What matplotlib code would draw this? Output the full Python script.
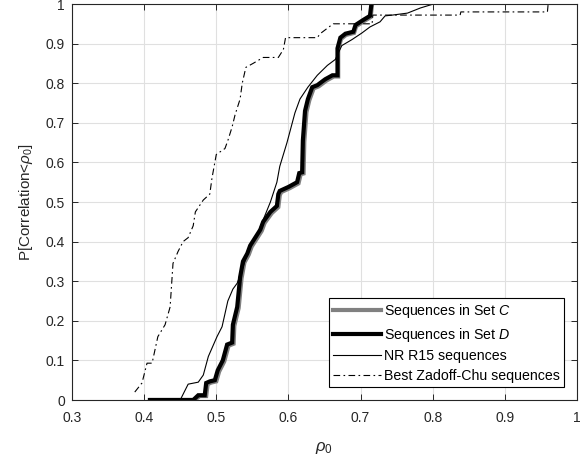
import matplotlib
matplotlib.use("Agg")
import matplotlib.pyplot as plt
from matplotlib.ticker import FormatStrFormatter

plt.rcParams['font.family'] = ['Liberation Sans', 'DejaVu Sans']
plt.rcParams['mathtext.fontset'] = 'custom'
plt.rcParams['mathtext.rm'] = 'Liberation Sans'
plt.rcParams['mathtext.it'] = 'Liberation Sans:italic'
plt.rcParams['mathtext.bf'] = 'Liberation Sans:bold'

# Set D (thick black)
d_x = [0.408, 0.468, 0.475, 0.484, 0.486, 0.491, 0.498, 0.502, 0.509, 0.515, 0.522,
       0.523, 0.529, 0.533, 0.537, 0.543, 0.547, 0.554, 0.561, 0.565, 0.575, 0.584,
       0.586, 0.588, 0.600, 0.612, 0.615, 0.619, 0.620, 0.623, 0.627, 0.633, 0.640,
       0.651, 0.661, 0.668, 0.668, 0.672, 0.679, 0.690, 0.693, 0.704, 0.713, 0.715]
d_y = [0.0, 0.0, 0.012, 0.012, 0.043, 0.047, 0.05, 0.075, 0.10, 0.14, 0.145,
       0.19, 0.235, 0.31, 0.35, 0.37, 0.39, 0.41, 0.43, 0.45, 0.475, 0.49,
       0.52, 0.528, 0.538, 0.55, 0.573, 0.575, 0.655, 0.73, 0.76, 0.79, 0.795,
       0.81, 0.82, 0.82, 0.888, 0.915, 0.925, 0.93, 0.947, 0.96, 0.97, 1.0]

# Set C (thick grey), nearly identical to D
c_x = [0.410, 0.470, 0.477, 0.486, 0.488, 0.493, 0.500, 0.504, 0.511, 0.517, 0.524,
       0.525, 0.531, 0.535, 0.539, 0.545, 0.549, 0.556, 0.563, 0.567, 0.577, 0.586,
       0.588, 0.590, 0.602, 0.614, 0.617, 0.621, 0.622, 0.625, 0.629, 0.635, 0.642,
       0.653, 0.663, 0.669, 0.669, 0.673, 0.680, 0.691, 0.694, 0.705, 0.714, 0.716]
c_y = [0.0, 0.0, 0.010, 0.010, 0.040, 0.044, 0.047, 0.072, 0.097, 0.137, 0.142,
       0.187, 0.232, 0.307, 0.347, 0.367, 0.387, 0.407, 0.427, 0.447, 0.472, 0.487,
       0.517, 0.525, 0.535, 0.547, 0.570, 0.572, 0.652, 0.727, 0.757, 0.787, 0.792,
       0.807, 0.817, 0.817, 0.885, 0.912, 0.922, 0.927, 0.944, 0.957, 0.967, 1.0]

# NR R15 sequences (thin solid)
nr_x = [0.408, 0.450, 0.461, 0.475, 0.482, 0.489, 0.501, 0.508, 0.516, 0.523, 0.529,
        0.536, 0.547, 0.557, 0.565, 0.575, 0.584, 0.588, 0.598, 0.609, 0.616, 0.627,
        0.640, 0.654, 0.665, 0.674, 0.688, 0.702, 0.713, 0.727, 0.734, 0.744, 0.765,
        0.783, 0.801]
nr_y = [0.0, 0.0, 0.04, 0.045, 0.063, 0.11, 0.16, 0.185, 0.25, 0.28, 0.295,
        0.33, 0.39, 0.42, 0.455, 0.50, 0.55, 0.59, 0.65, 0.725, 0.76, 0.79,
        0.82, 0.845, 0.86, 0.895, 0.91, 0.927, 0.942, 0.955, 0.97, 0.972, 0.977,
        0.99, 1.0]

# Best Zadoff-Chu sequences (dash-dot)
zc_x = [0.387, 0.397, 0.404, 0.411, 0.419, 0.429, 0.436, 0.440, 0.447, 0.454, 0.461,
        0.468, 0.471, 0.482, 0.491, 0.494, 0.500, 0.512, 0.516, 0.522, 0.526, 0.533,
        0.536, 0.541, 0.551, 0.565, 0.586, 0.593, 0.596, 0.640, 0.644, 0.662, 0.667,
        0.716, 0.717, 0.838, 0.839, 0.959, 0.960]
zc_y = [0.02, 0.043, 0.093, 0.093, 0.16, 0.19, 0.235, 0.345, 0.375, 0.40, 0.41,
        0.44, 0.475, 0.505, 0.52, 0.56, 0.62, 0.635, 0.655, 0.69, 0.72, 0.76,
        0.80, 0.84, 0.85, 0.865, 0.865, 0.885, 0.915, 0.915, 0.925, 0.95, 0.95,
        0.95, 0.972, 0.972, 0.98, 0.98, 1.0]

x_ticks = [0.3, 0.4, 0.5, 0.6, 0.7, 0.8, 0.9, 1.0]
y_ticks = [0, 0.1, 0.2, 0.3, 0.4, 0.5, 0.6, 0.7, 0.8, 0.9, 1.0]

fig = plt.figure(figsize=(5.88, 4.59), dpi=100)
ax = fig.add_axes([72/588, 1-400/459, (577-72)/588, (400-4)/459])

ax.plot(c_x, c_y, color='#808080', lw=3.0, label='Sequences in Set $\\it{C}$', solid_joinstyle='miter')
ax.plot(d_x, d_y, color='black', lw=3.0, label='Sequences in Set $\\it{D}$', solid_joinstyle='miter')
ax.plot(nr_x, nr_y, color='black', lw=0.8, label='NR R15 sequences')
ax.plot(zc_x, zc_y, color='black', lw=0.8, ls=(0, (6, 3, 1.5, 3)), label='Best Zadoff-Chu sequences')

ax.set_xlim(0.3, 1.0)
ax.set_ylim(0, 1.0)
ax.set_xticks(x_ticks)
ax.set_yticks(y_ticks)
ax.xaxis.set_major_formatter(FormatStrFormatter('%g'))
ax.yaxis.set_major_formatter(FormatStrFormatter('%g'))
ax.grid(True, color='#e0e0e0', lw=0.8)
ax.set_axisbelow(True)
ax.tick_params(direction='in', top=True, right=True, length=4, width=0.7,
               labelsize=10, colors='#262626', labelcolor='#262626')
ax.tick_params(axis='x', pad=8)
ax.tick_params(axis='y', pad=5)
for s in ax.spines.values():
    s.set_color('#262626')
    s.set_linewidth(0.8)

ax.set_xlabel(r'$\rho_0$', fontsize=12, color='#262626', labelpad=11)
ax.set_ylabel(r'P[Correlation<$\rho_0$]', fontsize=11, color='#262626', labelpad=8)

leg = ax.legend(loc='lower right', fontsize=10.2, frameon=True, fancybox=False,
                edgecolor='black', framealpha=1, handlelength=3.4, handletextpad=0.2,
                borderpad=0.3, labelspacing=0.4, borderaxespad=0.9)
leg.get_frame().set_linewidth(0.8)

fig.savefig('out.png', dpi=100)
